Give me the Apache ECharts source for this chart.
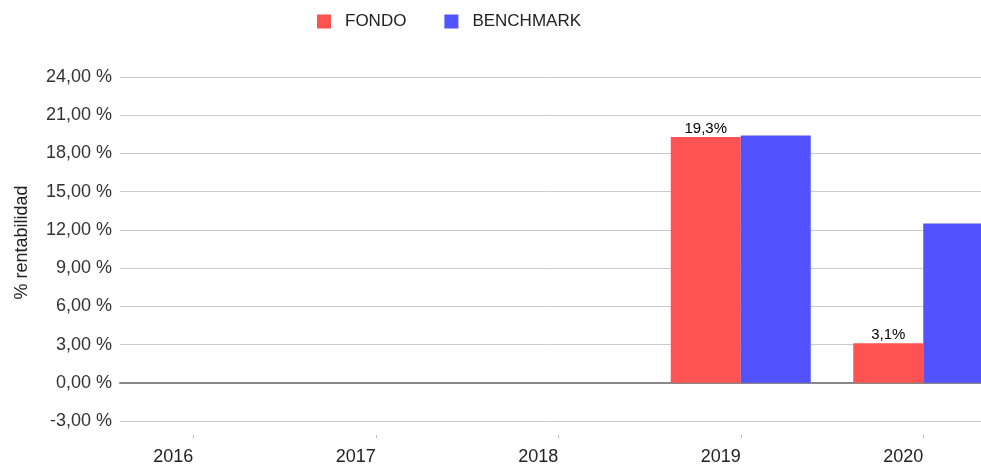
<!DOCTYPE html>
<html>
<head>
<meta charset="utf-8">
<script src="https://cdn.jsdelivr.net/npm/echarts@6/dist/echarts.min.js"></script>
<style>
  html, body { margin: 0; padding: 0; background: #fff; }
  #chart { width: 981px; height: 464px; }
</style>
</head>
<body>
<div id="chart"></div>
<script>
// data
var years = ['2016', '2017', '2018', '2019', '2020'];
var fondo = [0, 0, 0, 19.3, 3.1];
var benchmark = [0, 0, 0, 19.4, 12.5];
var yMin = -3, yMax = 24, yStep = 3;

var fmtPct = function (v, d) {
  return v.toFixed(d).replace('.', ',');
};

var chart = echarts.init(document.getElementById('chart'));
chart.setOption({
  animation: false,
  textStyle: { fontFamily: 'Liberation Sans, Arial, sans-serif' },
  legend: {
    data: ['FONDO', 'BENCHMARK'],
    left: 317,
    top: 13,
    padding: 0,
    icon: 'rect',
    itemWidth: 14,
    itemHeight: 14,
    itemGap: 38,
    textStyle: { fontSize: 17, color: '#222', padding: [0, 0, 0, 9] }
  },
  grid: [
    // bars (wider than the picture, cut at the right edge)
    { left: 102, width: 912.5, top: 77, bottom: 43, outerBoundsMode: 'none' },
    // gridlines and y labels
    { left: 120, right: 0, top: 77, bottom: 43, outerBoundsMode: 'none' }
  ],
  xAxis: [
    {
      type: 'category',
      gridIndex: 0,
      data: years,
      offset: 14,
      axisLine: { show: false, onZero: false },
      axisTick: { show: true, alignWithLabel: true, length: 3, lineStyle: { color: '#bbb' } },
      axisLabel: { fontSize: 18, color: '#222', margin: 13, align: 'right' },
      splitLine: { show: false }
    },
    {
      type: 'value',
      gridIndex: 1,
      min: 0,
      max: 1,
      axisLabel: { show: false },
      axisTick: { show: false },
      splitLine: { show: false },
      axisLine: { show: true, onZero: true, lineStyle: { color: '#888', width: 2 } }
    }
  ],
  yAxis: [
    {
      type: 'value',
      gridIndex: 0,
      min: yMin,
      max: yMax,
      interval: yStep,
      axisLabel: { show: false },
      axisLine: { show: false },
      axisTick: { show: false },
      splitLine: { show: false }
    },
    {
      type: 'value',
      gridIndex: 1,
      min: yMin,
      max: yMax,
      interval: yStep,
      name: '% rentabilidad',
      nameLocation: 'middle',
      nameGap: 89,
      nameTextStyle: { fontSize: 18, color: '#222', padding: [0, 0, 0, 13] },
      axisLine: { show: false },
      axisTick: { show: false },
      axisLabel: {
        fontSize: 18,
        color: '#333',
        margin: 8,
        formatter: function (v) { return fmtPct(v, 2) + ' %'; }
      },
      splitLine: { show: true, lineStyle: { color: '#ccc', width: 1 } }
    }
  ],
  series: [
    {
      name: 'FONDO',
      type: 'bar',
      xAxisIndex: 0,
      yAxisIndex: 0,
      data: fondo,
      barWidth: 70,
      barGap: '0%',
      itemStyle: { color: '#ff5252' },
      label: {
        show: true,
        position: 'top',
        distance: 1,
        fontSize: 15,
        color: '#000',
        formatter: function (p) { return p.value ? fmtPct(p.value, 1) + '%' : ''; }
      }
    },
    {
      name: 'BENCHMARK',
      type: 'bar',
      xAxisIndex: 0,
      yAxisIndex: 0,
      data: benchmark,
      barWidth: 70,
      barGap: '0%',
      itemStyle: { color: '#5252ff' }
    }
  ]
});
</script>
</body>
</html>
